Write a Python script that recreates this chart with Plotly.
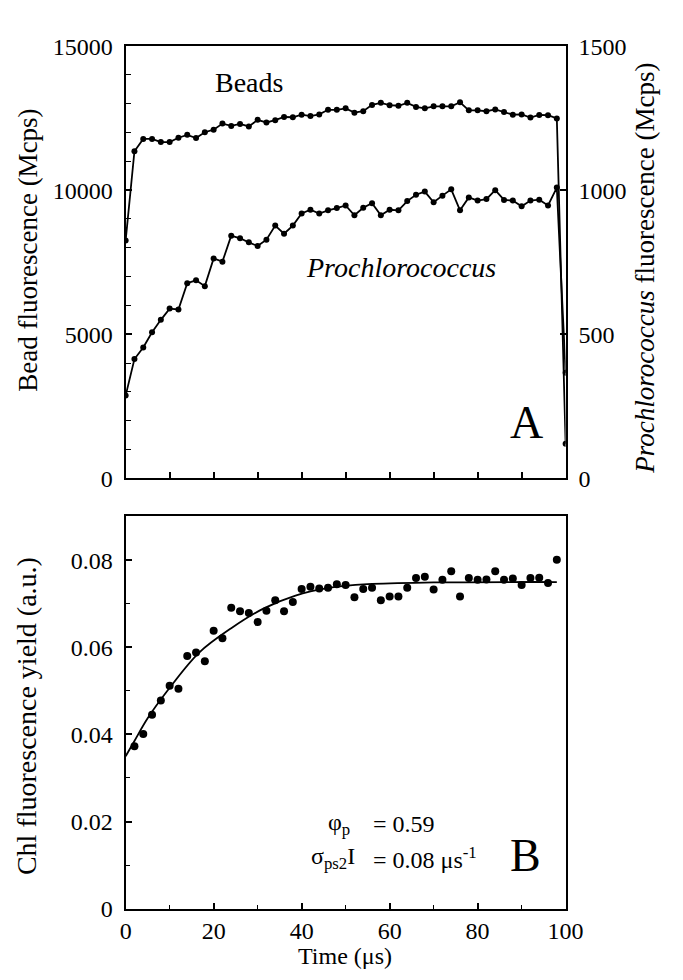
import plotly.graph_objects as go

# ---------------- data ----------------
time_a = [0, 2, 4, 6, 8, 10, 12, 14, 16, 18, 20, 22, 24, 26, 28, 30, 32, 34, 36, 38,
          40, 42, 44, 46, 48, 50, 52, 54, 56, 58, 60, 62, 64, 66, 68, 70, 72, 74, 76, 78,
          80, 82, 84, 86, 88, 90, 92, 94, 96, 98, 100]
beads = [8250, 11350, 11780, 11780, 11670, 11670, 11820, 11920, 11810, 12010,
         12100, 12310, 12230, 12300, 12210, 12440, 12350, 12430, 12540, 12530,
         12620, 12570, 12630, 12790, 12790, 12840, 12690, 12740, 12960, 13030,
         12950, 12930, 13030, 12890, 12840, 12910, 12910, 12910, 13050, 12770,
         12770, 12740, 12800, 12710, 12620, 12630, 12520, 12610, 12600, 12490, 1200]
prochloro = [287, 414, 454, 507, 550, 589, 586, 677, 687, 667,
             763, 752, 842, 833, 819, 806, 828, 877, 849, 877,
             919, 932, 919, 930, 938, 947, 913, 939, 955, 913,
             932, 930, 962, 984, 995, 958, 981, 1003, 930, 975,
             964, 969, 1000, 966, 964, 944, 964, 967, 947, 1009, 366]

time_b = [2, 4, 6, 8, 10, 12, 14, 16, 18, 20, 22, 24, 26, 28, 30, 32, 34, 36, 38, 40,
          42, 44, 46, 48, 50, 52, 54, 56, 58, 60, 62, 64, 66, 68, 70, 72, 74, 76, 78, 80,
          82, 84, 86, 88, 90, 92, 94, 96, 98]
chl_yield = [0.0373, 0.0401, 0.0445, 0.0478, 0.0512, 0.0505, 0.0580, 0.0588, 0.0568, 0.0638,
             0.0621, 0.0691, 0.0683, 0.0679, 0.0658, 0.0684, 0.0708, 0.0683, 0.0704, 0.0734,
             0.0739, 0.0735, 0.0737, 0.0745, 0.0743, 0.0715, 0.0734, 0.0737, 0.0708, 0.0717,
             0.0717, 0.0737, 0.0759, 0.0762, 0.0733, 0.0755, 0.0775, 0.0717, 0.0759, 0.0755,
             0.0756, 0.0775, 0.0755, 0.0758, 0.0743, 0.0759, 0.0760, 0.0748, 0.0801]

fit_t = [0, 2, 5, 9.4, 16.7, 24, 31.3, 38.6, 45.9, 55, 70, 98]
fit_y = [0.0350, 0.0385, 0.0437, 0.0499, 0.0588, 0.0644, 0.0689, 0.0719, 0.0736, 0.0745, 0.0749, 0.0750]

bead_ticks = [0, 5000, 10000, 15000]
bead_labels = ["0", "5000", "10000", "15000"]
proch_ticks = [0, 500, 1000, 1500]
proch_labels = ["0", "500", "1000", "1500"]
yield_ticks = [0, 0.02, 0.04, 0.06, 0.08]
yield_labels = ["0", "0.02", "0.04", "0.06", "0.08"]
time_ticks = [0, 20, 40, 60, 80, 100]
time_labels = ["0", "20", "40", "60", "80", "100"]

# ---------------- figure ----------------
FONT = "Liberation Serif, Times New Roman, serif"
W, H = 683, 980
xl, xr = 124 / W, 580 / W
a_top, a_bot = 1 - 34 / H, 1 - 478 / H
b_top, b_bot = 1 - 517 / H, 1 - 920 / H

fig = go.Figure()
fig.add_trace(go.Scatter(x=time_a, y=beads, mode="lines+markers", xaxis="x", yaxis="y",
                         line=dict(color="black", width=1.8),
                         marker=dict(color="black", size=6), name="Beads"))
fig.add_trace(go.Scatter(x=time_a, y=prochloro, mode="lines+markers", xaxis="x", yaxis="y2",
                         line=dict(color="black", width=1.8),
                         marker=dict(color="black", size=6), name="Prochlorococcus"))
fig.add_trace(go.Scatter(x=time_b, y=chl_yield, mode="markers", xaxis="x2", yaxis="y3",
                         marker=dict(color="black", size=8), name="Chl yield"))
fig.add_trace(go.Scatter(x=fit_t, y=fit_y, mode="lines", xaxis="x2", yaxis="y3",
                         line=dict(color="black", width=1.8, shape="spline", smoothing=1.0),
                         name="fit"))

axis_common = dict(showgrid=False, zeroline=False, showline=True, linecolor="black",
                   linewidth=2, ticks="inside", tickcolor="black", tickwidth=1.5,
                   tickfont=dict(family=FONT, size=24, color="black"))

fig.update_layout(
    width=W, height=H, margin=dict(l=0, r=0, t=0, b=0),
    paper_bgcolor="white", plot_bgcolor="white", showlegend=False,
    font=dict(family=FONT, color="black"),
    xaxis=dict(domain=[xl, xr], anchor="y", range=[0, 100], dtick=10, ticklen=6,
               showticklabels=False, mirror=True, **axis_common),
    yaxis=dict(domain=[a_bot, a_top], anchor="x", range=[0, 15000],
               tickvals=bead_ticks, ticktext=bead_labels, ticklen=6, mirror=True,
               ticklabelstandoff=6,
               minor=dict(dtick=1000, ticklen=5, ticks="inside", tickcolor="black", tickwidth=1.2),
               **axis_common),
    yaxis2=dict(domain=[a_bot, a_top], anchor="x", overlaying="y", side="right",
                range=[0, 1500], tickvals=proch_ticks, ticktext=proch_labels, ticklen=6,
                ticklabelstandoff=6, **axis_common),
    xaxis2=dict(domain=[xl, xr], anchor="y3", range=[0, 100], tickvals=time_ticks,
                ticktext=time_labels, ticklen=6, mirror=True, ticklabelstandoff=0,
                minor=dict(dtick=10, ticklen=4, ticks="inside", tickcolor="black", tickwidth=1.2),
                **axis_common),
    yaxis3=dict(domain=[b_bot, b_top], anchor="x2", range=[0, 0.0901],
                tickvals=yield_ticks, ticktext=yield_labels, ticklen=6, mirror=True,
                ticklabelstandoff=6,
                minor=dict(dtick=0.01, ticklen=4, ticks="inside", tickcolor="black", tickwidth=1.2),
                **axis_common),
)

def ann(text, x, y, xref, yref, size, angle=0, xanchor="center", yanchor="middle"):
    fig.add_annotation(text=text, x=x, y=y, xref=xref, yref=yref, showarrow=False,
                       textangle=angle, xanchor=xanchor, yanchor=yanchor, borderpad=0,
                       font=dict(family=FONT, size=size, color="black"))

# axis titles
ann("Bead fluorescence (Mcps)", 22 / W, 1 - 244 / H, "paper", "paper", 27, -90)
ann("<i>Prochlorococcus</i> fluorescence (Mcps)", 662 / W, 1 - 262 / H, "paper", "paper", 27, -90)
ann("Chl fluorescence yield (a.u.)", 22 / W, 1 - 722 / H, "paper", "paper", 28, -90)
ann("Time (μs)", 351 / W, 1 - 969 / H, "paper", "paper", 24)

# in-plot labels (panel A)
ann("Beads", 28.1, 13750, "x", "y", 28)
ann("<i>Prochlorococcus</i>", 62.5, 7300, "x", "y", 28)
ann("A", 91.0, 1950, "x", "y", 46)
# panel B
ann("B", 90.8, 0.0121, "x2", "y3", 46)
ann("φ<sub>p</sub>", 45.8, 0.0194, "x2", "y3", 24, xanchor="left")
ann("= 0.59", 56.0, 0.0194, "x2", "y3", 24, xanchor="left")
ann("σ<sub>ps2</sub>I", 42.0, 0.0116, "x2", "y3", 24, xanchor="left")
ann("= 0.08 μs<sup>-1</sup>", 56.0, 0.0116, "x2", "y3", 24, xanchor="left")

fig.write_html("out.html")
